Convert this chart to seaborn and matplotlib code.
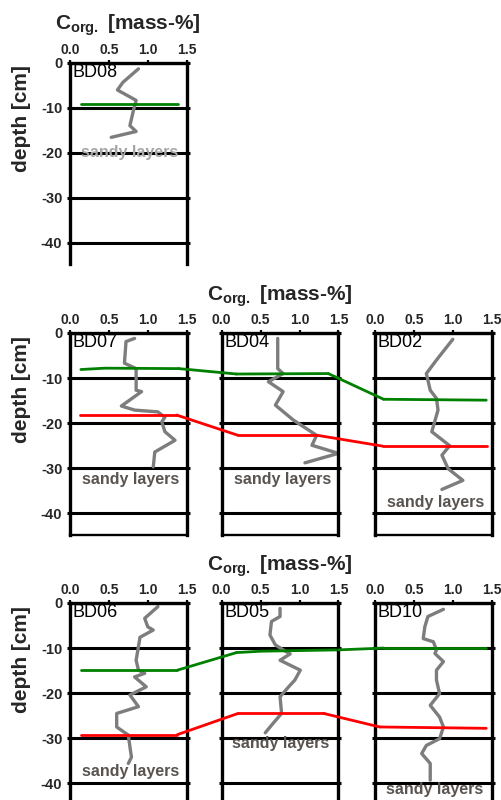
import matplotlib
matplotlib.use("Agg")
import matplotlib.pyplot as plt
import numpy as np
import pandas as pd
import seaborn as sns
from matplotlib.patches import ConnectionPatch

sns.set_theme(style="white")
plt.rcParams['font.family'] = ['Liberation Sans', 'DejaVu Sans']
plt.rcParams['mathtext.fontset'] = 'custom'
plt.rcParams['mathtext.rm'] = 'Liberation Sans'
plt.rcParams['mathtext.bf'] = 'Liberation Sans:bold'

# ---------------- data ----------------
x_ticks = [0.0, 0.5, 1.0, 1.5]
x_tick_labels = ["0.0", "0.5", "1.0", "1.5"]
y_ticks = [0, -10, -20, -30, -40]
y_tick_labels = ["0", "-10", "-20", "-30", "-40"]

rows = [["BD08"], ["BD07", "BD04", "BD02"], ["BD06", "BD05", "BD10"]]

bd08_corg = [0.88, 0.68, 0.61, 0.85, 0.82, 0.77, 0.85, 0.53]
bd08_depth = [-1.4, -4.4, -6.1, -8.4, -10.3, -14.0, -15.3, -16.6]

bd07_corg = [0.83, 0.72, 0.70, 0.85, 0.85, 0.92, 0.66, 0.83, 1.13, 1.22, 1.18, 1.22, 1.35, 1.09, 1.07]
bd07_depth = [-1.2, -1.9, -6.7, -7.9, -12.7, -13.0, -16.2, -17.1, -17.5, -18.7, -19.7, -21.9, -23.8, -26.4, -29.7]

bd04_corg = [0.72, 0.72, 0.79, 0.60, 0.79, 0.69, 0.92, 1.22, 1.16, 1.50, 1.07]
bd04_depth = [-1.2, -7.9, -9.0, -10.8, -13.0, -16.0, -19.3, -22.7, -24.9, -26.7, -28.8]

bd02_corg = [1.00, 0.79, 0.66, 0.71, 0.79, 0.81, 0.73, 0.96, 0.86, 0.94, 1.13, 0.86]
bd02_depth = [-1.4, -6.0, -9.0, -12.7, -14.5, -17.1, -21.9, -25.0, -27.1, -30.1, -32.7, -34.7]

bd06_corg = [1.13, 0.96, 1.00, 1.07, 0.90, 0.85, 0.88, 0.96, 0.83, 0.98, 0.77, 0.88, 0.60, 0.60, 0.75, 0.77, 0.79, 0.75]
bd06_depth = [-0.8, -3.4, -5.3, -6.0, -7.6, -12.7, -14.9, -15.6, -16.4, -18.6, -20.4, -23.0, -24.5, -27.5, -29.3, -31.9, -34.2, -35.6]

bd05_corg = [0.75, 0.75, 0.64, 0.62, 0.69, 0.79, 0.88, 0.75, 1.01, 0.94, 0.86, 0.75, 0.77, 0.66, 0.56]
bd05_depth = [-1.2, -3.0, -4.1, -7.1, -9.3, -10.4, -11.3, -12.7, -14.9, -17.1, -18.6, -20.8, -24.5, -26.7, -28.8]

bd10_corg = [0.88, 0.68, 0.64, 0.62, 0.75, 0.79, 0.77, 0.88, 0.79, 0.79, 0.83, 0.71, 0.83, 0.88, 0.83, 0.66, 0.60, 0.71, 0.71]
bd10_depth = [-1.4, -3.0, -5.3, -7.9, -8.6, -10.4, -11.2, -13.0, -14.9, -17.1, -20.1, -22.7, -25.3, -27.5, -30.1, -31.6, -33.4, -35.6, -39.3]

# horizon boundaries (green = upper, red = lower)
green1_core = ["BD08", "BD08"]
green1_corg = [0.14, 1.39]
green1_depth = [-9.2, -9.2]

green2_core = ["BD07", "BD07", "BD07", "BD04", "BD04", "BD02", "BD02"]
green2_corg = [0.14, 0.45, 1.40, 0.19, 1.37, 0.11, 1.43]
green2_depth = [-8.1, -7.8, -7.9, -9.1, -9.0, -14.7, -14.9]

red2_core = ["BD07", "BD07", "BD04", "BD04", "BD02", "BD02"]
red2_corg = [0.13, 1.37, 0.21, 1.23, 0.10, 1.44]
red2_depth = [-18.2, -18.2, -22.7, -22.7, -25.1, -25.1]

green3_core = ["BD06", "BD06", "BD05", "BD05", "BD05", "BD10", "BD10"]
green3_corg = [0.14, 1.38, 0.19, 0.50, 1.50, 0.11, 1.43]
green3_depth = [-14.9, -14.9, -11.0, -10.7, -10.4, -10.0, -10.0]

red3_core = ["BD06", "BD06", "BD05", "BD05", "BD10", "BD10"]
red3_corg = [0.14, 1.38, 0.21, 1.31, 0.06, 1.43]
red3_depth = [-29.2, -29.2, -24.5, -24.5, -27.5, -27.8]

sandy_core = ["BD08", "BD07", "BD04", "BD02", "BD06", "BD05", "BD10"]
sandy_corg = [0.76, 0.78, 0.78, 0.78, 0.78, 0.76, 0.76]
sandy_depth = [-20.0, -32.4, -32.4, -37.7, -37.3, -31.2, -41.3]

# ---------------- build tables ----------------
profiles = pd.concat([
    pd.DataFrame({"core": c, "corg": x, "depth": d})
    for c, x, d in [("BD08", bd08_corg, bd08_depth), ("BD07", bd07_corg, bd07_depth),
                    ("BD04", bd04_corg, bd04_depth), ("BD02", bd02_corg, bd02_depth),
                    ("BD06", bd06_corg, bd06_depth), ("BD05", bd05_corg, bd05_depth),
                    ("BD10", bd10_corg, bd10_depth)]
], ignore_index=True)

boundaries = [
    (pd.DataFrame({"core": green1_core, "corg": green1_corg, "depth": green1_depth}), "#008000"),
    (pd.DataFrame({"core": green2_core, "corg": green2_corg, "depth": green2_depth}), "#008000"),
    (pd.DataFrame({"core": red2_core, "corg": red2_corg, "depth": red2_depth}), "#ff0000"),
    (pd.DataFrame({"core": green3_core, "corg": green3_corg, "depth": green3_depth}), "#008000"),
    (pd.DataFrame({"core": red3_core, "corg": red3_corg, "depth": red3_depth}), "#ff0000"),
]

# ---------------- layout ----------------
W, H = 502, 800
fig = plt.figure(figsize=(W / 100, H / 100), dpi=100)
col_left = [70, 221.7, 375]
col_w = 116.7
row_top = [62.5, 333, 603]
ax_h = 201.5
YMIN = -44.7

axes = {}
for r, cores in enumerate(rows):
    for c, core in enumerate(cores):
        ax = fig.add_axes([col_left[c] / W, (H - row_top[r] - ax_h) / H, col_w / W, ax_h / H])
        axes[core] = ax
        ax.set_xlim(0, 1.5)
        ax.set_ylim(YMIN, 0)
        ax.set_axisbelow(True)
        ax.xaxis.tick_top()
        ax.set_xticks(x_ticks)
        ax.set_xticklabels(x_tick_labels, fontweight="bold", fontsize=10)
        ax.set_yticks(y_ticks)
        if c == 0:
            ax.set_yticklabels(y_tick_labels, fontweight="bold", fontsize=10.5)
            ax.set_ylabel("depth [cm]", fontweight="bold", fontsize=15)
            ax.yaxis.set_label_coords(-0.33, 0.72)
        else:
            ax.set_yticklabels([])
        ax.grid(axis="y", color="black", lw=2.2)
        ax.grid(axis="x", visible=False)
        ax.tick_params(axis="y", left=True, right=True, direction="out", length=2.5,
                       width=2.2, color="black", pad=3)
        ax.tick_params(axis="x", top=True, bottom=False, direction="out", length=2.5,
                       width=1.6, color="black", pad=1.5)
        for s in ["left", "right", "top"]:
            ax.spines[s].set_color("black")
            ax.spines[s].set_linewidth(2.4)
        if r == 1:
            ax.spines["bottom"].set_color("black")
            ax.spines["bottom"].set_linewidth(1.7)
        else:
            ax.spines["bottom"].set_visible(False)

        sns.lineplot(data=profiles[profiles.core == core], x="corg", y="depth", sort=False,
                     estimator=None, color="#7d7d7d", lw=2.4, ax=ax)
        ax.set_xlabel("")
        if c != 0:
            ax.set_ylabel("")
        ax.text(0.02, 0.993, core, transform=ax.transAxes, ha="left", va="top",
                fontsize=13, color="black")

# titles
title = r"$\mathbf{C_{org.}}$ [mass-%]"
for ax in [axes["BD08"], axes["BD04"], axes["BD05"]]:
    ax.text(0.5, 1.183, title, transform=ax.transAxes, ha="center", va="center",
            fontsize=15, fontweight="bold")

# sandy layers labels
for core, x, d in zip(sandy_core, sandy_corg, sandy_depth):
    col = "#a6a6a6" if core == "BD08" else "#5a5450"
    axes[core].text(x, d, "sandy layers", ha="center", va="center",
                    fontsize=11.5, fontweight="bold", color=col)

# horizon boundaries
for df, color in boundaries:
    cores_in = list(dict.fromkeys(df.core))
    for core in cores_in:
        sub = df[df.core == core]
        sns.lineplot(data=sub, x="corg", y="depth", sort=False, estimator=None,
                     color=color, lw=2.0, ax=axes[core])
        axes[core].set_xlabel("")
        if core not in ("BD08", "BD07", "BD06"):
            axes[core].set_ylabel("")
    for a, b in zip(cores_in[:-1], cores_in[1:]):
        pa = df[df.core == a].iloc[-1]
        pb = df[df.core == b].iloc[0]
        con = ConnectionPatch(xyA=(pa.corg, pa.depth), coordsA=axes[a].transData,
                              xyB=(pb.corg, pb.depth), coordsB=axes[b].transData,
                              color=color, lw=2.0)
        fig.add_artist(con)

fig.savefig("out.png", dpi=100)
